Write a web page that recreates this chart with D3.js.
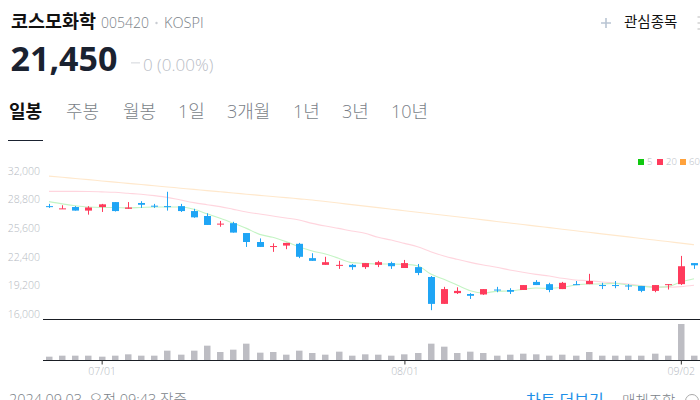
<!DOCTYPE html>
<html><head><meta charset="utf-8">
<script src="https://cdn.jsdelivr.net/npm/d3@7"></script>
<style>html,body{margin:0;padding:0;background:#fff;overflow:hidden}svg{display:block}text{font-family:"Open Sans","Noto Sans CJK KR",sans-serif}</style>
</head><body><svg id="c" width="700" height="400"></svg>
<script>
const dayIndex=[...Array(50).keys()];
const open=[28050,27750,27950,27550,27950,28500,27750,28400,28100,28050,28050,27500,26950,26050,26150,25050,24050,23550,23650,23850,22250,21500,21400,21500,21250,21500,21700,21150,21250,20150,17150,18350,18250,18200,18750,18700,18700,19600,19350,18800,19350,19350,19250,19250,19200,19150,18600,19300,19350,21700];
const close=[28000,27800,27550,27900,28250,27500,27900,28200,28000,28000,27500,26800,25950,26100,25100,24050,23500,23600,23950,22400,21950,21800,21500,21250,21700,21800,21350,21700,20600,17150,18800,18600,18050,18800,18700,18500,19250,19250,18700,19500,19250,19700,19200,19150,19100,18600,19250,19350,21350,21450];
const high=[28300,28150,28050,28050,28300,28500,28500,28600,28300,29650,28300,27750,27250,26400,26300,25050,24450,23900,23950,23950,22800,22400,21950,21600,21700,21950,21850,22050,21600,20250,19050,19000,18350,18800,19050,18900,19250,19800,19500,19600,19700,20500,19500,19700,19350,19150,19250,19350,22500,21700];
const low=[27850,27750,27550,27100,27400,27450,27750,27850,27850,27550,27400,26750,25950,25750,25100,23500,23500,22950,23250,22250,21950,21500,21050,20950,21050,21250,21050,21150,20350,16450,17150,18250,17700,18150,18450,18250,18700,19250,18450,18800,19250,19350,18800,18900,18700,18450,18450,18750,19250,21050];
const ma5=[28550,28300,28100,27950,27900,27900,27850,27900,27950,27950,27950,27700,27200,26700,26150,25570,24900,24570,24090,23530,23050,22710,22230,21750,21670,21600,21600,21560,21410,20480,19890,19250,18620,18360,18550,18590,18770,18920,18880,19000,19250,19370,19370,19440,19250,19140,19000,19070,19590,19960];
const ma20=[29700,29700,29690,29680,29640,29590,29480,29370,29220,29030,28730,28440,28210,27990,27690,27400,27170,26950,26730,26500,26130,25830,25570,25280,25020,24570,24270,23900,23530,22970,22490,22120,21780,21490,21230,20930,20670,20440,20260,20000,19810,19740,19590,19480,19370,19180,19070,19000,19070,19220];
const ma60=[31400,31270,31130,31000,30860,30730,30590,30460,30320,30190,30050,29920,29780,29650,29520,29380,29250,29120,29000,28860,28730,28560,28390,28220,28050,27880,27710,27540,27370,27200,27030,26860,26690,26520,26340,26170,26000,25820,25650,25480,25300,25130,24960,24790,24620,24440,24270,24100,23920,23750];
const volume=[100,130,130,130,100,130,170,130,130,280,160,280,430,240,310,490,220,240,160,280,210,160,250,130,170,160,130,170,210,490,400,210,250,210,130,160,190,170,130,160,130,240,130,130,130,130,190,130,1080,130];
const priceTicks=[16000,19200,22400,25600,28800,32000];
const dateTicks=[[4,"07/01"],[27,"08/01"],[48,"09/02"]];
const legendNames=["5","20","60"];
const tabs=["일봉","주봉","월봉","1일","3개월","1년","3년","10년"];
const tabX=[9,66,123,178,227,293,342,391];

const svg=d3.select("#c");
const x=d3.scaleLinear().domain([0,49]).range([49,694]);
const y=d3.scaleLinear().domain([16000,32000]).range([314.2,170.7]);
const yv=d3.scaleLinear().domain([0,1200]).range([360,320]);
const RED="#ff3b5c",BLUE="#1fa5f5";
const T=(s,px,py,size,fill,weight,anchor)=>svg.append("text").attr("x",px).attr("y",py).attr("font-size",size).attr("fill",fill).attr("font-weight",weight||300).attr("text-anchor",anchor||"start").text(s);

// header
T("코스모화학",11,28,18.5,"#111",700);
T("005420",101,28,14,"#7a7f88");
svg.append("circle").attr("cx",156.5).attr("cy",23).attr("r",1.2).attr("fill","#c9ccd2");
T("KOSPI",164,28,14.5,"#7a7f88");
T("21,450",10.5,71,34,"#1a2230",700);
svg.append("rect").attr("x",131).attr("y",62).attr("width",9).attr("height",1.6).attr("fill","#e3e5e8");
T("0 (0.00%)",143,71,17,"#b9bdc5");
tabs.forEach((t,i)=>T(t,tabX[i],118,18,i==0?"#111":"#7a7f88",i==0?700:300));
svg.append("rect").attr("x",8).attr("y",140).attr("width",35).attr("height",1).attr("fill","#1a2230");
svg.append("path").attr("d","M601 23H611M606 18V28").attr("stroke","#b9c5d3").attr("stroke-width",1.6);
T("관심종목",624,27,14.5,"#111",400);
svg.append("path").attr("d","M699 16v2M699 22v2M699 28v2").attr("stroke","#ddd").attr("stroke-width",3);

// legend
[["#10c810",638,647],[RED,657,666],["#ffa23c",680,689]].forEach((d,i)=>{
  svg.append("rect").attr("x",d[1]).attr("y",159).attr("width",6).attr("height",6).attr("fill",d[0]);
  T(legendNames[i],d[2],165,9.5,"#b5bac2");
});

// y axis
const gy=svg.append("g").attr("transform","translate(43,0)").call(d3.axisLeft(y).tickValues(priceTicks).tickFormat(d3.format(",")).tickSize(0).tickPadding(3));
gy.select(".domain").remove();
gy.selectAll("text").attr("font-size",10.5).attr("fill","#b5bac2").attr("font-weight",300).style("font-family",'"Open Sans"');

// moving averages
const line=d3.line().x((d,i)=>x(i)).y(d=>y(d)).curve(d3.curveMonotoneX);
[[ma60,"#ffe8cc"],[ma20,"#ffd5de"],[ma5,"#c4f4c4"]].forEach(d=>svg.append("path").attr("d",line(d[0])).attr("fill","none").attr("stroke",d[1]).attr("stroke-width",1.1));

// candles
const cg=svg.append("g").selectAll("g").data(dayIndex).join("g");
const col=i=>close[i]>=open[i]?RED:BLUE;
cg.append("line").attr("x1",i=>Math.round(x(i))+.5).attr("x2",i=>Math.round(x(i))+.5).attr("y1",i=>y(high[i])).attr("y2",i=>y(low[i])).attr("stroke",col).attr("stroke-width",1);
cg.append("rect").attr("x",i=>Math.round(x(i))-3).attr("width",7).attr("y",i=>y(Math.max(open[i],close[i]))).attr("height",i=>Math.max(1,Math.abs(y(open[i])-y(close[i])))).attr("fill",col);

// volume
svg.append("g").selectAll("rect").data(dayIndex).join("rect").attr("x",i=>Math.round(x(i))-3).attr("width",6.5).attr("y",i=>yv(volume[i])).attr("height",i=>360-yv(volume[i])).attr("fill","#bdbdc3");

// frame lines + date axis
svg.append("rect").attr("x",43).attr("y",319).attr("width",657).attr("height",1).attr("fill","#1a1e24");
svg.append("rect").attr("x",43).attr("y",360).attr("width",657).attr("height",1).attr("fill","#1a1e24");
const gx=svg.append("g").attr("transform","translate(0,360.5)").call(d3.axisBottom(x).tickValues(dateTicks.map(d=>d[0])).tickFormat(d=>dateTicks.find(t=>t[0]==d)[1]).tickSize(4).tickPadding(3));
gx.select(".domain").remove();
gx.selectAll("line").attr("stroke","#333");
gx.selectAll("text").attr("font-size",10.5).attr("fill","#b5bac2").attr("font-weight",300).style("font-family",'"Open Sans"');

// footer (clipped by window)
T("2024.09.03. 오전 09:43 장중",9,405,14.5,"#7a7f88");
T("차트 더보기",526,406,16,"#1e8fe8",400);
T("매체조합",622,406,14.5,"#7a7f88");
svg.append("circle").attr("cx",692).attr("cy",401).attr("r",6.5).attr("fill","none").attr("stroke","#aaa");
</script></body></html>
